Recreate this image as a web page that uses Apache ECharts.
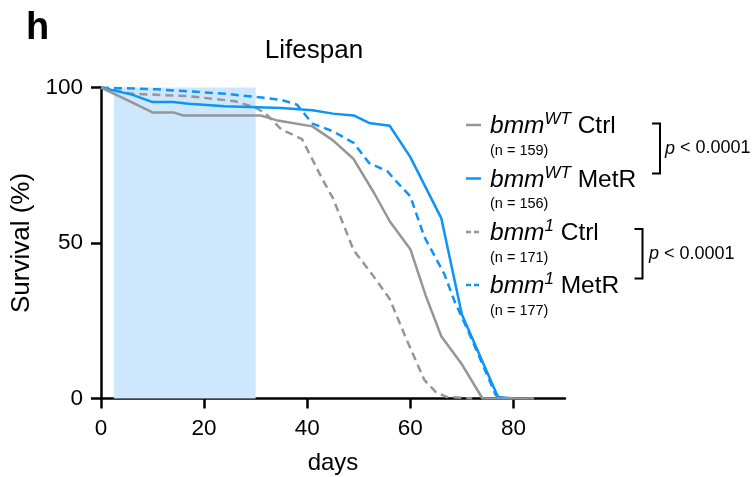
<!DOCTYPE html>
<html>
<head>
<meta charset="utf-8">
<script src="https://cdn.jsdelivr.net/npm/echarts@6/dist/echarts.min.js"></script>
<style>html,body{margin:0;padding:0;background:#fff}#c{width:752px;height:477px}</style>
</head>
<body>
<div id="c"></div>
<script>
// ---- data (day, survival %) ----
const wtCtrl = [[0,100],[5,96],[10,92],[14,92],[16,91],[31,91],[34,89.5],[41,87.5],[45,83],[49,77],[53,66],[56,57],[60,48],[63,33],[66,20],[70,11],[74,0],[84,0]];
const wtMetR = [[0,100],[6,97.7],[10,95.3],[14,95.3],[17,94.8],[24,94],[35,93.4],[41,92.7],[45,91.6],[49,91],[52,88.6],[56,87.7],[60,77.6],[66,58],[70,27],[77,0.5],[80,0]];
const mutCtrl = [[0,100],[6,98],[17,97.2],[26,95.6],[30,93.5],[32,91.5],[35,86.5],[39,83.4],[43,70.3],[45,64.4],[49,47.7],[53,39],[56,32],[59,20],[62.7,6],[65,2],[67,0.5],[72,0]];
const mutMetR = [[0,100],[11,99.4],[24,98],[31.6,96.7],[35,96],[38,94.5],[41,88.4],[45,85.9],[49,82.2],[52,75.7],[55.6,73],[57,70.3],[60,65],[62.7,52],[66.6,40],[68.5,31.6],[71.4,21],[76.6,1],[78,0]];
const shadeDays = [2.5, 30];
const xTicks = [0, 20, 40, 60, 80];
const yTicks = [0, 50, 100];
const legendGenes = ['bmm', 'bmm', 'bmm', 'bmm'];
const legendSups = ['WT', 'WT', '1', '1'];
const legendConds = ['Ctrl', 'MetR', 'Ctrl', 'MetR'];
const legendNs = ['(n = 159)', '(n = 156)', '(n = 171)', '(n = 177)'];
const pText = 'p';
const pRest = ' < 0.0001';

const GRAY = '#969696', BLUE = '#0d94f6';
const FONT = "'Liberation Sans', Arial, Helvetica, sans-serif";
const colors = [GRAY, BLUE, GRAY, BLUE];
const dashed = [false, false, true, true];
const seriesData = [wtCtrl, wtMetR, mutCtrl, mutMetR];

const chart = echarts.init(document.getElementById('c'), null, {renderer: 'canvas'});

const series = seriesData.map((d, i) => ({
  type: 'line', data: d, symbol: 'none', z: 3 + (3 - i),
  lineStyle: {color: colors[i], width: 2.5, type: dashed[i] ? [8, 5] : 'solid'},
  animation: false
}));
series[0].markArea = {
  silent: true,
  itemStyle: {color: '#cde7fd'},
  data: [[{xAxis: shadeDays[0], yAxis: 0}, {xAxis: shadeDays[1], yAxis: 100}]]
};

// legend graphics
const graphics = [];
const legY = [125, 178.5, 232, 285];
for (let i = 0; i < 4; i++) {
  graphics.push({
    type: 'line', shape: {x1: 466, y1: legY[i], x2: 481, y2: legY[i]},
    style: {stroke: colors[i], lineWidth: 2.5, lineDash: dashed[i] ? [5, 3] : null}
  });
  graphics.push({
    type: 'text', x: 490, y: legY[i],
    style: {
      text: '{g|' + legendGenes[i] + '}{s|' + legendSups[i] + '}{c| ' + legendConds[i] + '}',
      verticalAlign: 'middle', align: 'left',
      rich: {
        g: {fontFamily: FONT, fontSize: 24.5, fontStyle: 'italic', fill: '#000', verticalAlign: 'bottom', lineHeight: 28},
        s: {fontFamily: FONT, fontSize: 17, fontStyle: 'italic', fill: '#000', verticalAlign: 'top', lineHeight: 19},
        c: {fontFamily: FONT, fontSize: 24.5, fill: '#000', verticalAlign: 'bottom', lineHeight: 28}
      }
    }
  });
  graphics.push({
    type: 'text', x: 490, y: legY[i] + 25.5,
    style: {text: legendNs[i], fontFamily: FONT, fontSize: 14.5, fill: '#000', verticalAlign: 'middle'}
  });
}
// brackets
const brackets = [{x: 660, y1: 123.5, y2: 173.5, tx: 665}, {x: 642.5, y1: 229, y2: 278.5, tx: 649}];
brackets.forEach(b => {
  graphics.push({
    type: 'polyline', shape: {points: [[b.x - 8, b.y1], [b.x, b.y1], [b.x, b.y2], [b.x - 8, b.y2]]},
    style: {stroke: '#000', lineWidth: 2, fill: null}
  });
  graphics.push({
    type: 'text', x: b.tx, y: (b.y1 + b.y2) / 2,
    style: {
      text: '{p|' + pText + '}{r|' + pRest + '}', verticalAlign: 'middle',
      rich: {
        p: {fontFamily: FONT, fontSize: 18, fontStyle: 'italic', fill: '#000'},
        r: {fontFamily: FONT, fontSize: 18, fill: '#000'}
      }
    }
  });
});
graphics.push({
  type: 'text', x: 26, y: 29,
  style: {text: 'h', fontFamily: FONT, fontSize: 38, fontWeight: 'bold', fill: '#000', verticalAlign: 'middle'}
});

chart.setOption({
  animation: false,
  backgroundColor: '#fff',
  title: {
    text: 'Lifespan', left: 309, top: 33, textAlign: 'center',
    textStyle: {fontFamily: FONT, fontSize: 26, fontWeight: 'normal', color: '#000'}
  },
  grid: {left: 101, top: 87.5, width: 464, height: 311, containLabel: false, outerBoundsMode: 'none'},
  xAxis: {
    type: 'value', min: 0, max: 90, interval: 20,
    name: 'days', nameLocation: 'middle', nameGap: 53,
    nameTextStyle: {fontFamily: FONT, fontSize: 24, color: '#000'},
    axisLine: {show: true, onZero: false, lineStyle: {color: '#000', width: 2.5}},
    axisTick: {show: true, length: 10, lineStyle: {color: '#000', width: 2.5}, customValues: xTicks},
    axisLabel: {fontFamily: FONT, fontSize: 22.5, color: '#000', margin: 19, customValues: xTicks},
    splitLine: {show: false}
  },
  yAxis: {
    type: 'value', min: 0, max: 100, interval: 50,
    name: 'Survival (%)', nameLocation: 'middle', nameGap: 61, nameRotate: 90,
    nameTextStyle: {fontFamily: FONT, fontSize: 26, color: '#000'},
    axisLine: {show: true, onZero: false, lineStyle: {color: '#000', width: 2.5}},
    axisTick: {show: true, length: 10, lineStyle: {color: '#000', width: 2.5}, customValues: yTicks},
    axisLabel: {fontFamily: FONT, fontSize: 22.5, color: '#000', margin: 18, customValues: yTicks},
    splitLine: {show: false}
  },
  series: series,
  graphic: graphics
});
</script>
</body>
</html>
